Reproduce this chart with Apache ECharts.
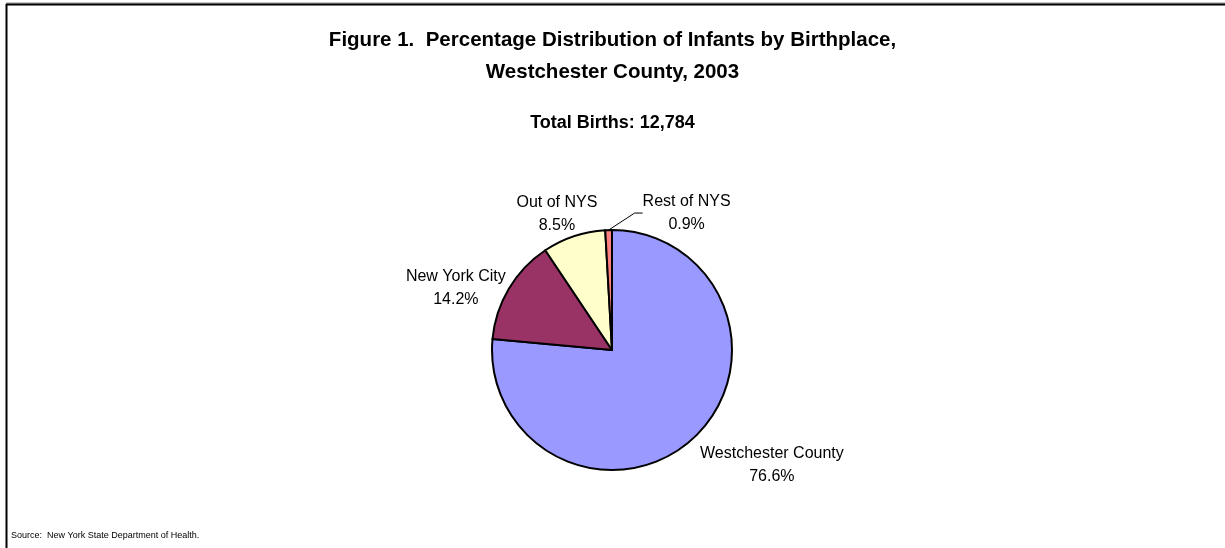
<!DOCTYPE html>
<html>
<head>
<meta charset="utf-8">
<script src="https://cdn.jsdelivr.net/npm/echarts@6/dist/echarts.min.js"></script>
<style>
    html, body { margin: 0; padding: 0; background: #fff; }
    #chart { width: 1225px; height: 548px; }
</style>
</head>
<body>
<div id="chart"></div>
<script>
// Birthplace shares, Westchester County 2003
var categories = ['Westchester County', 'New York City', 'Out of NYS', 'Rest of NYS'];
var percents = [76.6, 14.2, 8.5, 0.9];
var sliceColors = ['#9999FF', '#993366', '#FFFFCC', '#FF8080'];
var totalBirths = '12,784';

var FONT = '"Liberation Sans", Arial, sans-serif';
var pieCenter = [612, 350];
var pieRadius = 120;

// where each label box sits relative to the slice's outer mid point (Excel style)
var labelNudge = [[79, 26], [-53, -1], [-17, -22], [78, -17]];

// mid angle of each slice, clockwise from 12 o'clock
var sum = percents.reduce(function (s, v) { return s + v; }, 0);
var midAngles = [];
var acc = 0;
percents.forEach(function (v) {
    var a = v / sum * Math.PI * 2;
    midAngles.push(acc + a / 2);
    acc += a;
});

var chart = echarts.init(document.getElementById('chart'));

var option = {
    backgroundColor: '#fff',
    animation: false,
    title: [{
        text: 'Figure 1.  Percentage Distribution of Infants by Birthplace,\nWestchester County, 2003',
        left: 'center',
        top: 19,
        textStyle: { fontFamily: FONT, fontSize: 20.5, fontWeight: 'bold', color: '#000', lineHeight: 32 }
    }, {
        text: 'Total Births: ' + totalBirths,
        left: 'center',
        top: 109,
        textStyle: { fontFamily: FONT, fontSize: 18, fontWeight: 'bold', color: '#000' }
    }, {
        text: 'Source:  New York State Department of Health.',
        left: 6,
        top: 526,
        textStyle: { fontFamily: FONT, fontSize: 9, fontWeight: 'normal', color: '#000' }
    }],
    graphic: [
        { type: 'line', shape: { x1: 6, y1: 3, x2: 1225, y2: 3 }, style: { stroke: '#888', lineWidth: 1 }, silent: true },
        { type: 'line', shape: { x1: 6, y1: 4.5, x2: 1225, y2: 4.5 }, style: { stroke: '#000', lineWidth: 2 }, silent: true },
        { type: 'line', shape: { x1: 6.5, y1: 4, x2: 6.5, y2: 548 }, style: { stroke: '#000', lineWidth: 2 }, silent: true }
    ],
    series: [{
        type: 'pie',
        center: pieCenter,
        radius: pieRadius,
        startAngle: 90,
        clockwise: true,
        silent: true,
        itemStyle: { borderColor: '#000', borderWidth: 2 },
        label: {
            show: true,
            position: 'outside',
            formatter: function (p) { return p.name + '\n' + p.value.toFixed(1) + '%'; },
            fontFamily: FONT,
            fontSize: 16,
            lineHeight: 23,
            color: '#000'
        },
        labelLine: { show: false },
        labelLayout: function (p) {
            var i = p.dataIndex;
            var ex = pieCenter[0] + pieRadius * Math.sin(midAngles[i]);
            var ey = pieCenter[1] - pieRadius * Math.cos(midAngles[i]);
            return {
                x: ex + labelNudge[i][0],
                y: ey + labelNudge[i][1],
                align: 'center',
                verticalAlign: 'middle'
            };
        },
        data: categories.map(function (c, i) {
            var item = { name: c, value: percents[i], itemStyle: { color: sliceColors[i] } };
            if (i === 3) {
                item.labelLine = { show: true, length: 14, length2: 8, lineStyle: { color: '#000', width: 1 } };
            }
            return item;
        })
    }]
};

chart.setOption(option);
</script>
</body>
</html>
